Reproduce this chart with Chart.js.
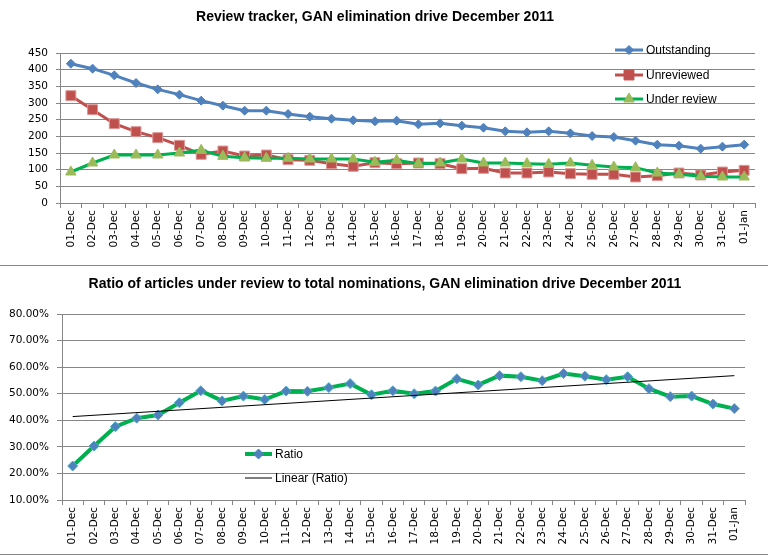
<!DOCTYPE html>
<html>
<head>
<meta charset="utf-8">
<script src="https://cdn.jsdelivr.net/npm/chart.js@4/dist/chart.umd.min.js"></script>
<style>
html, body { margin: 0; padding: 0; background: #fff; }
#wrap { position: relative; width: 768px; height: 555px; overflow: hidden; }
canvas { position: absolute; left: 0; }
#topChart { top: 0; }
#botChart { top: 266px; }
.sep { position: absolute; left: 0; width: 768px; height: 1px; background: #868686; }
</style>
</head>
<body>
<div id="wrap">
  <canvas id="topChart" width="768" height="265"></canvas>
  <div class="sep" style="top:265px"></div>
  <canvas id="botChart" width="768" height="288"></canvas>
  <div class="sep" style="top:554px"></div>
</div>
<script>
// dates on the x axis
var days = ["01-Dec","02-Dec","03-Dec","04-Dec","05-Dec","06-Dec","07-Dec","08-Dec","09-Dec","10-Dec",
            "11-Dec","12-Dec","13-Dec","14-Dec","15-Dec","16-Dec","17-Dec","18-Dec","19-Dec","20-Dec",
            "21-Dec","22-Dec","23-Dec","24-Dec","25-Dec","26-Dec","27-Dec","28-Dec","29-Dec","30-Dec",
            "31-Dec","01-Jan"];

// top chart series
var outstanding = [418,403,383,360,341,325,307,292,277,277,267,259,253,248,245,247,
                   236,239,232,226,215,212,215,209,201,198,187,175,172,163,169,175];
var unreviewed  = [322,280,238,214,196,173,146,156,141,144,130,128,118,110,121,118,
                   120,118,103,104,90,90,93,88,86,86,78,82,90,84,93,98];
var underReview = [93,120,144,144,144,150,158,140,136,134,134,132,132,132,122,128,
                   118,120,132,120,120,118,116,120,113,108,106,90,86,80,78,78];

// bottom chart series, percent
var ratio = [22.8,30.3,37.6,40.8,42.0,46.6,51.1,47.3,49.1,47.8,51.0,50.9,52.3,53.8,49.6,51.1,
             50.0,51.0,55.6,53.3,56.8,56.4,54.9,57.6,56.6,55.3,56.4,51.9,48.9,49.1,46.1,44.4];
// trend line end points
var trendDays = ["01-Dec","01-Jan"];
var trendValues = [41.4, 56.8];

var topTitle = "Review tracker, GAN elimination drive December 2011";
var botTitle = "Ratio of articles under review to total nominations, GAN elimination drive December 2011";

var gridGrey = '#868686';
var tickFont = { family: 'DejaVu Sans', size: 10.5 };
var legendFont = '12px "Liberation Sans"';

// draws title + an excel style legend sitting inside the plot
function decorPlugin(title, titleX, titleY, items) {
    return {
        id: 'decor',
        afterDraw: function(chart) {
            var ctx = chart.ctx;
            ctx.save();
            ctx.fillStyle = '#000';
            ctx.font = 'bold 14px "Liberation Sans"';
            ctx.textAlign = 'center';
            ctx.textBaseline = 'middle';
            ctx.fillText(title, titleX, titleY);

            items.forEach(function(it) {
                ctx.strokeStyle = it.line;
                ctx.lineWidth = it.lineWidth;
                ctx.beginPath();
                ctx.moveTo(it.x0, it.y);
                ctx.lineTo(it.x1, it.y);
                ctx.stroke();
                if (it.marker) {
                    ctx.fillStyle = it.markerColor;
                    ctx.strokeStyle = it.markerColor;
                    ctx.lineWidth = 1;
                    Chart.helpers.drawPoint(ctx, { pointStyle: it.marker, radius: it.radius, rotation: 0, borderWidth: 1 },
                        (it.x0 + it.x1) / 2, it.y);
                }
                ctx.fillStyle = '#000';
                ctx.font = legendFont;
                ctx.textAlign = 'left';
                ctx.textBaseline = 'middle';
                ctx.fillText(it.label, it.x1 + 3, it.y + 1);
            });
            ctx.restore();
        }
    };
}

function xScale(h) {
    return {
        offset: true,
        grid: { offset: true, drawOnChartArea: false, drawTicks: true, tickLength: 5, color: gridGrey },
        border: { color: gridGrey },
        ticks: { minRotation: 90, maxRotation: 90, autoSkip: false, padding: 2, color: '#000', font: tickFont },
        afterFit: function(s) { s.height = h; }
    };
}

var topConfig = {
    type: 'line',
    data: {
        labels: days,
        datasets: [{
            label: 'Outstanding',
            data: outstanding,
            borderColor: '#4F81BD',
            backgroundColor: '#4F81BD',
            borderWidth: 3,
            pointStyle: 'rectRot',
            pointRadius: 4.5,
            pointBorderWidth: 1,
            order: 2
        }, {
            label: 'Unreviewed',
            data: unreviewed,
            borderColor: '#C0504D',
            backgroundColor: '#C0504D',
            pointBorderColor: '#D99694',
            borderWidth: 3,
            pointStyle: 'rect',
            pointRadius: 7,
            pointBorderWidth: 1,
            order: 1
        }, {
            label: 'Under review',
            data: underReview,
            borderColor: '#00B050',
            backgroundColor: '#9BBB59',
            pointBorderColor: '#9BBB59',
            borderWidth: 3,
            pointStyle: 'triangle',
            pointRadius: 6,
            pointBorderWidth: 1,
            order: 0
        }]
    },
    options: {
        responsive: false,
        animation: false,
        layout: { padding: { top: 53, right: 13, left: 0, bottom: 0 } },
        plugins: { legend: { display: false }, title: { display: false }, tooltip: { enabled: false } },
        scales: {
            x: xScale(62),
            y: {
                min: 0, max: 450,
                ticks: { stepSize: 50, padding: 8, color: '#000', font: tickFont },
                grid: { color: gridGrey, tickLength: 4 },
                border: { color: gridGrey },
                afterFit: function(s) { s.width = 60; }
            }
        }
    },
    plugins: [decorPlugin(topTitle, 375, 17, [
        { label: 'Outstanding', line: '#4F81BD', lineWidth: 3, x0: 615, x1: 643, y: 50, marker: 'rectRot', radius: 4.5, markerColor: '#4F81BD' },
        { label: 'Unreviewed', line: '#C0504D', lineWidth: 3, x0: 615, x1: 643, y: 75, marker: 'rect', radius: 7, markerColor: '#C0504D' },
        { label: 'Under review', line: '#00B050', lineWidth: 3, x0: 615, x1: 643, y: 99, marker: 'triangle', radius: 6, markerColor: '#9BBB59' }
    ])]
};

var botConfig = {
    type: 'line',
    data: {
        labels: days,
        datasets: [{
            label: 'Ratio',
            data: ratio,
            borderColor: '#00B050',
            backgroundColor: '#4F81BD',
            pointBorderColor: '#4BACC6',
            borderWidth: 4,
            pointStyle: 'rectRot',
            pointRadius: 5,
            pointBorderWidth: 1,
            order: 1
        }, {
            label: 'Linear (Ratio)',
            data: trendDays.map(function(d, i) { return { x: d, y: trendValues[i] }; }),
            borderColor: '#000',
            borderWidth: 1,
            pointRadius: 0,
            order: 0
        }]
    },
    options: {
        responsive: false,
        animation: false,
        layout: { padding: { top: 48, right: 23, left: 0, bottom: 0 } },
        plugins: { legend: { display: false }, title: { display: false }, tooltip: { enabled: false } },
        scales: {
            x: xScale(54),
            y: {
                min: 10, max: 80,
                ticks: { stepSize: 10, padding: 8, color: '#000', font: tickFont,
                         callback: function(v) { return v.toFixed(2) + '%'; } },
                grid: { color: gridGrey, tickLength: 5 },
                border: { color: gridGrey },
                afterFit: function(s) { s.width = 62; }
            }
        }
    },
    plugins: [decorPlugin(botTitle, 385, 18, [
        { label: 'Ratio', line: '#00B050', lineWidth: 4, x0: 245, x1: 272, y: 188, marker: 'rectRot', radius: 5, markerColor: '#4F81BD' },
        { label: 'Linear (Ratio)', line: '#000', lineWidth: 1, x0: 245, x1: 272, y: 212 }
    ])]
};

var topChart = new Chart(document.getElementById('topChart').getContext('2d'), topConfig);
var botChart = new Chart(document.getElementById('botChart').getContext('2d'), botConfig);
</script>
</body>
</html>
